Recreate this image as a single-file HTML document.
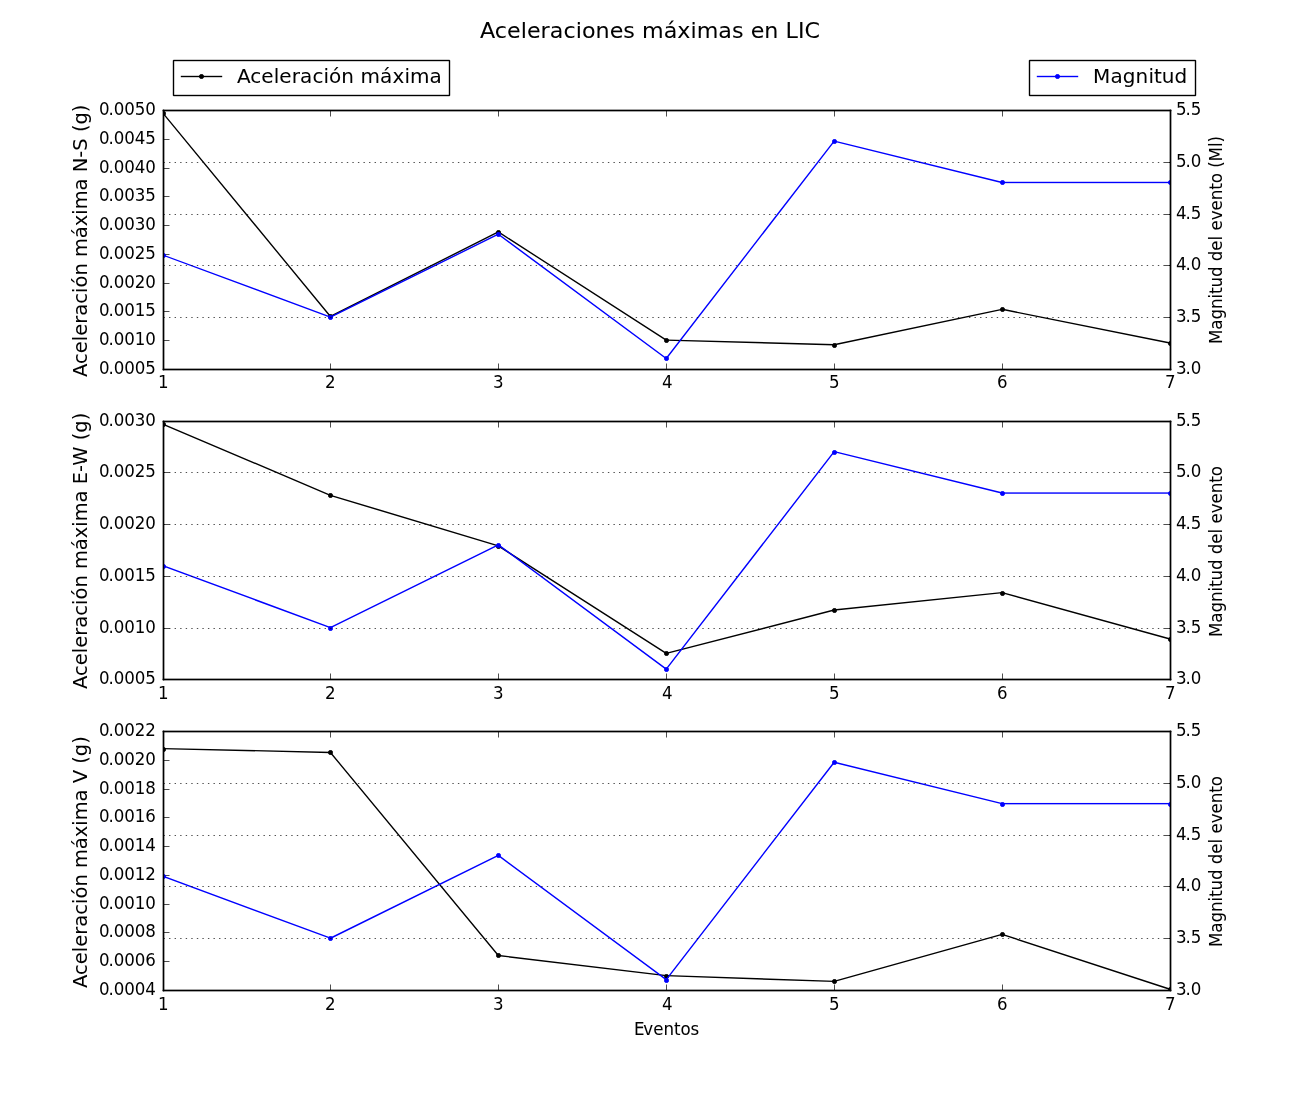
<!DOCTYPE html>
<html lang="es">
<head>
<meta charset="utf-8">
<title>Aceleraciones máximas en LIC</title>
<style>
html,body{margin:0;padding:0;background:#fff;}
body{width:1300px;height:1100px;overflow:hidden;}
svg{display:block;}
svg svg{overflow:hidden;}
text{font-family:"DejaVu Sans","Liberation Sans",sans-serif;fill:#000;}
</style>
</head>
<body>
<svg width="1300" height="1100" viewBox="0 0 1300 1100">
<rect width="1300" height="1100" fill="#fff"/>
<!-- axes 1 -->
<svg x="163" y="110" width="1008" height="260" viewBox="163 110 1008 260"><g stroke="#000" stroke-linecap="round"><line x1="162.5" y1="112.588" x2="330.417" y2="316.484" stroke-width="1.38"/><line x1="330.417" y1="316.484" x2="498.333" y2="231.935" stroke-width="1.38"/><line x1="498.333" y1="231.935" x2="666.25" y2="340.065" stroke-width="1.36"/><line x1="666.25" y1="340.065" x2="834.167" y2="344.782" stroke-width="1.38"/><line x1="834.167" y1="344.782" x2="1002.083" y2="309.294" stroke-width="1.36"/><line x1="1002.083" y1="309.294" x2="1170" y2="343.056" stroke-width="1.4"/></g><g transform="translate(163 113)"><rect x="-1" y="-1" width="3" height="3"/><rect x="-1" y="-2" width="3" height="1" fill-opacity=".769"/><rect x="-1" y="2" width="3" height="1" fill-opacity=".769"/><rect x="-2" y="-1" width="1" height="3" fill-opacity=".769"/><rect x="2" y="-1" width="1" height="3" fill-opacity=".769"/><rect x="0" y="-2" width="1" height="1" fill-opacity=".424"/><rect x="0" y="2" width="1" height="1" fill-opacity=".424"/><rect x="-2" y="0" width="1" height="1" fill-opacity=".424"/><rect x="2" y="0" width="1" height="1" fill-opacity=".424"/><rect x="-2" y="-2" width="1" height="1" fill-opacity=".086"/><rect x="2" y="-2" width="1" height="1" fill-opacity=".086"/><rect x="-2" y="2" width="1" height="1" fill-opacity=".086"/><rect x="2" y="2" width="1" height="1" fill-opacity=".086"/></g><g transform="translate(330 316)"><rect x="-1" y="-1" width="3" height="3"/><rect x="-1" y="-2" width="3" height="1" fill-opacity=".769"/><rect x="-1" y="2" width="3" height="1" fill-opacity=".769"/><rect x="-2" y="-1" width="1" height="3" fill-opacity=".769"/><rect x="2" y="-1" width="1" height="3" fill-opacity=".769"/><rect x="0" y="-2" width="1" height="1" fill-opacity=".424"/><rect x="0" y="2" width="1" height="1" fill-opacity=".424"/><rect x="-2" y="0" width="1" height="1" fill-opacity=".424"/><rect x="2" y="0" width="1" height="1" fill-opacity=".424"/><rect x="-2" y="-2" width="1" height="1" fill-opacity=".086"/><rect x="2" y="-2" width="1" height="1" fill-opacity=".086"/><rect x="-2" y="2" width="1" height="1" fill-opacity=".086"/><rect x="2" y="2" width="1" height="1" fill-opacity=".086"/></g><g transform="translate(498 232)"><rect x="-1" y="-1" width="3" height="3"/><rect x="-1" y="-2" width="3" height="1" fill-opacity=".769"/><rect x="-1" y="2" width="3" height="1" fill-opacity=".769"/><rect x="-2" y="-1" width="1" height="3" fill-opacity=".769"/><rect x="2" y="-1" width="1" height="3" fill-opacity=".769"/><rect x="0" y="-2" width="1" height="1" fill-opacity=".424"/><rect x="0" y="2" width="1" height="1" fill-opacity=".424"/><rect x="-2" y="0" width="1" height="1" fill-opacity=".424"/><rect x="2" y="0" width="1" height="1" fill-opacity=".424"/><rect x="-2" y="-2" width="1" height="1" fill-opacity=".086"/><rect x="2" y="-2" width="1" height="1" fill-opacity=".086"/><rect x="-2" y="2" width="1" height="1" fill-opacity=".086"/><rect x="2" y="2" width="1" height="1" fill-opacity=".086"/></g><g transform="translate(666 340)"><rect x="-1" y="-1" width="3" height="3"/><rect x="-1" y="-2" width="3" height="1" fill-opacity=".769"/><rect x="-1" y="2" width="3" height="1" fill-opacity=".769"/><rect x="-2" y="-1" width="1" height="3" fill-opacity=".769"/><rect x="2" y="-1" width="1" height="3" fill-opacity=".769"/><rect x="0" y="-2" width="1" height="1" fill-opacity=".424"/><rect x="0" y="2" width="1" height="1" fill-opacity=".424"/><rect x="-2" y="0" width="1" height="1" fill-opacity=".424"/><rect x="2" y="0" width="1" height="1" fill-opacity=".424"/><rect x="-2" y="-2" width="1" height="1" fill-opacity=".086"/><rect x="2" y="-2" width="1" height="1" fill-opacity=".086"/><rect x="-2" y="2" width="1" height="1" fill-opacity=".086"/><rect x="2" y="2" width="1" height="1" fill-opacity=".086"/></g><g transform="translate(834 345)"><rect x="-1" y="-1" width="3" height="3"/><rect x="-1" y="-2" width="3" height="1" fill-opacity=".769"/><rect x="-1" y="2" width="3" height="1" fill-opacity=".769"/><rect x="-2" y="-1" width="1" height="3" fill-opacity=".769"/><rect x="2" y="-1" width="1" height="3" fill-opacity=".769"/><rect x="0" y="-2" width="1" height="1" fill-opacity=".424"/><rect x="0" y="2" width="1" height="1" fill-opacity=".424"/><rect x="-2" y="0" width="1" height="1" fill-opacity=".424"/><rect x="2" y="0" width="1" height="1" fill-opacity=".424"/><rect x="-2" y="-2" width="1" height="1" fill-opacity=".086"/><rect x="2" y="-2" width="1" height="1" fill-opacity=".086"/><rect x="-2" y="2" width="1" height="1" fill-opacity=".086"/><rect x="2" y="2" width="1" height="1" fill-opacity=".086"/></g><g transform="translate(1002 309)"><rect x="-1" y="-1" width="3" height="3"/><rect x="-1" y="-2" width="3" height="1" fill-opacity=".769"/><rect x="-1" y="2" width="3" height="1" fill-opacity=".769"/><rect x="-2" y="-1" width="1" height="3" fill-opacity=".769"/><rect x="2" y="-1" width="1" height="3" fill-opacity=".769"/><rect x="0" y="-2" width="1" height="1" fill-opacity=".424"/><rect x="0" y="2" width="1" height="1" fill-opacity=".424"/><rect x="-2" y="0" width="1" height="1" fill-opacity=".424"/><rect x="2" y="0" width="1" height="1" fill-opacity=".424"/><rect x="-2" y="-2" width="1" height="1" fill-opacity=".086"/><rect x="2" y="-2" width="1" height="1" fill-opacity=".086"/><rect x="-2" y="2" width="1" height="1" fill-opacity=".086"/><rect x="2" y="2" width="1" height="1" fill-opacity=".086"/></g><g transform="translate(1170 343)"><rect x="-1" y="-1" width="3" height="3"/><rect x="-1" y="-2" width="3" height="1" fill-opacity=".769"/><rect x="-1" y="2" width="3" height="1" fill-opacity=".769"/><rect x="-2" y="-1" width="1" height="3" fill-opacity=".769"/><rect x="2" y="-1" width="1" height="3" fill-opacity=".769"/><rect x="0" y="-2" width="1" height="1" fill-opacity=".424"/><rect x="0" y="2" width="1" height="1" fill-opacity=".424"/><rect x="-2" y="0" width="1" height="1" fill-opacity=".424"/><rect x="2" y="0" width="1" height="1" fill-opacity=".424"/><rect x="-2" y="-2" width="1" height="1" fill-opacity=".086"/><rect x="2" y="-2" width="1" height="1" fill-opacity=".086"/><rect x="-2" y="2" width="1" height="1" fill-opacity=".086"/><rect x="2" y="2" width="1" height="1" fill-opacity=".086"/></g></svg>
<g><rect x="163.153" y="363.5" width=".694" height="6"/><rect x="163.153" y="110.5" width=".694" height="6"/><rect x="330.153" y="363.5" width=".694" height="6"/><rect x="330.153" y="110.5" width=".694" height="6"/><rect x="498.153" y="363.5" width=".694" height="6"/><rect x="498.153" y="110.5" width=".694" height="6"/><rect x="666.153" y="363.5" width=".694" height="6"/><rect x="666.153" y="110.5" width=".694" height="6"/><rect x="834.153" y="363.5" width=".694" height="6"/><rect x="834.153" y="110.5" width=".694" height="6"/><rect x="1002.153" y="363.5" width=".694" height="6"/><rect x="1002.153" y="110.5" width=".694" height="6"/><rect x="1170.153" y="363.5" width=".694" height="6"/><rect x="1170.153" y="110.5" width=".694" height="6"/><rect x="163.5" y="369.153" width="6" height=".694"/><rect x="163.5" y="340.153" width="6" height=".694"/><rect x="163.5" y="311.153" width="6" height=".694"/><rect x="163.5" y="283.153" width="6" height=".694"/><rect x="163.5" y="254.153" width="6" height=".694"/><rect x="163.5" y="225.153" width="6" height=".694"/><rect x="163.5" y="196.153" width="6" height=".694"/><rect x="163.5" y="168.153" width="6" height=".694"/><rect x="163.5" y="139.153" width="6" height=".694"/><rect x="163.5" y="110.153" width="6" height=".694"/></g>
<g><rect x="162.806" y="109.806" width="1.389" height="260.389"/><rect x="1169.806" y="109.806" width="1.389" height="260.389"/><rect x="162.806" y="368.806" width="1008.389" height="1.389"/><rect x="162.806" y="109.806" width="1008.389" height="1.389"/></g>
<g><text transform="translate(158 388) scale(1 1.05)" x="0" font-size="16.6667">1</text><text transform="translate(325 388) scale(1 1.05)" x="0" font-size="16.6667">2</text><text transform="translate(493 388) scale(1 1.05)" x="0" font-size="16.6667">3</text><text transform="translate(662 388) scale(1 1.05)" x="0" font-size="16.6667">4</text><text transform="translate(829 388) scale(1 1.05)" x="0" font-size="16.6667">5</text><text transform="translate(997 388) scale(1 1.05)" x="0" font-size="16.6667">6</text><text transform="translate(1165 388) scale(1 1.05)" x="0" font-size="16.6667">7</text><text transform="translate(99 374) scale(1 1.05)" x="0 9.5 14.75 25.25 35.75 46.25" font-size="16.6667">0.0005</text><text transform="translate(99 345) scale(1 1.05)" x="0 9.5 14.75 25.25 35.75 46.375" font-size="16.6667">0.0010</text><text transform="translate(99 316) scale(1 1.05)" x="0 9.5 14.75 25.25 35.75 46.375" font-size="16.6667">0.0015</text><text transform="translate(99 288) scale(1 1.05)" x="0 9.5 14.75 25.25 35.75 46.375" font-size="16.6667">0.0020</text><text transform="translate(99 259) scale(1 1.05)" x="0 9.5 14.75 25.25 35.75 46.375" font-size="16.6667">0.0025</text><text transform="translate(99 230) scale(1 1.05)" x="0 9.5 14.75 25.25 35.75 46.375" font-size="16.6667">0.0030</text><text transform="translate(99 201) scale(1 1.05)" x="0 9.5 14.75 25.25 35.75 46.375" font-size="16.6667">0.0035</text><text transform="translate(99 173) scale(1 1.05)" x="0 9.5 14.75 25.25 35.75 46.25" font-size="16.6667">0.0040</text><text transform="translate(99 144) scale(1 1.05)" x="0 9.5 14.75 25.25 35.75 46.25" font-size="16.6667">0.0045</text><text transform="translate(99 115) scale(1 1.05)" x="0 9.5 14.75 25.25 35.75 46.25" font-size="16.6667">0.0050</text></g>
<text transform="translate(87 377) rotate(-90) scale(1 1.02)" x="0 13 23.75 35.75 41.25 53.25 61.375 73.25 84 89.5 101.5 113.75 120 138.875 150.75 162.25 167.75 186.625 198.5 204.75 219.25 226.375 238.75 245 252.5 264.875" font-size="19.4444" stroke="#000" stroke-width=".02">Aceleración máxima N-S (g)</text>
<svg x="163" y="110" width="1008" height="260" viewBox="163 110 1008 260"><g stroke="#00f" stroke-linecap="round"><line x1="162.5" y1="254.941" x2="330.417" y2="317.059" stroke-width="1.38"/><line x1="330.417" y1="317.059" x2="498.333" y2="234.235" stroke-width="1.38"/><line x1="498.333" y1="234.235" x2="666.25" y2="358.471" stroke-width="1.46"/><line x1="666.25" y1="358.471" x2="834.167" y2="141.059" stroke-width="1.38"/><line x1="834.167" y1="141.059" x2="1002.083" y2="182.471" stroke-width="1.36"/><rect stroke="none" x="1001.389" y="181.776" width="169.306" height="1.389" fill="#00f"/></g><g transform="translate(163 255)" fill="#00f"><rect x="-1" y="-1" width="3" height="3"/><rect x="-1" y="-2" width="3" height="1" fill-opacity=".769"/><rect x="-1" y="2" width="3" height="1" fill-opacity=".769"/><rect x="-2" y="-1" width="1" height="3" fill-opacity=".769"/><rect x="2" y="-1" width="1" height="3" fill-opacity=".769"/><rect x="0" y="-2" width="1" height="1" fill-opacity=".424"/><rect x="0" y="2" width="1" height="1" fill-opacity=".424"/><rect x="-2" y="0" width="1" height="1" fill-opacity=".424"/><rect x="2" y="0" width="1" height="1" fill-opacity=".424"/><rect x="-2" y="-2" width="1" height="1" fill-opacity=".086"/><rect x="2" y="-2" width="1" height="1" fill-opacity=".086"/><rect x="-2" y="2" width="1" height="1" fill-opacity=".086"/><rect x="2" y="2" width="1" height="1" fill-opacity=".086"/></g><g transform="translate(330 317)" fill="#00f"><rect x="-1" y="-1" width="3" height="3"/><rect x="-1" y="-2" width="3" height="1" fill-opacity=".769"/><rect x="-1" y="2" width="3" height="1" fill-opacity=".769"/><rect x="-2" y="-1" width="1" height="3" fill-opacity=".769"/><rect x="2" y="-1" width="1" height="3" fill-opacity=".769"/><rect x="0" y="-2" width="1" height="1" fill-opacity=".424"/><rect x="0" y="2" width="1" height="1" fill-opacity=".424"/><rect x="-2" y="0" width="1" height="1" fill-opacity=".424"/><rect x="2" y="0" width="1" height="1" fill-opacity=".424"/><rect x="-2" y="-2" width="1" height="1" fill-opacity=".086"/><rect x="2" y="-2" width="1" height="1" fill-opacity=".086"/><rect x="-2" y="2" width="1" height="1" fill-opacity=".086"/><rect x="2" y="2" width="1" height="1" fill-opacity=".086"/></g><g transform="translate(498 234)" fill="#00f"><rect x="-1" y="-1" width="3" height="3"/><rect x="-1" y="-2" width="3" height="1" fill-opacity=".769"/><rect x="-1" y="2" width="3" height="1" fill-opacity=".769"/><rect x="-2" y="-1" width="1" height="3" fill-opacity=".769"/><rect x="2" y="-1" width="1" height="3" fill-opacity=".769"/><rect x="0" y="-2" width="1" height="1" fill-opacity=".424"/><rect x="0" y="2" width="1" height="1" fill-opacity=".424"/><rect x="-2" y="0" width="1" height="1" fill-opacity=".424"/><rect x="2" y="0" width="1" height="1" fill-opacity=".424"/><rect x="-2" y="-2" width="1" height="1" fill-opacity=".086"/><rect x="2" y="-2" width="1" height="1" fill-opacity=".086"/><rect x="-2" y="2" width="1" height="1" fill-opacity=".086"/><rect x="2" y="2" width="1" height="1" fill-opacity=".086"/></g><g transform="translate(666 358)" fill="#00f"><rect x="-1" y="-1" width="3" height="3"/><rect x="-1" y="-2" width="3" height="1" fill-opacity=".769"/><rect x="-1" y="2" width="3" height="1" fill-opacity=".769"/><rect x="-2" y="-1" width="1" height="3" fill-opacity=".769"/><rect x="2" y="-1" width="1" height="3" fill-opacity=".769"/><rect x="0" y="-2" width="1" height="1" fill-opacity=".424"/><rect x="0" y="2" width="1" height="1" fill-opacity=".424"/><rect x="-2" y="0" width="1" height="1" fill-opacity=".424"/><rect x="2" y="0" width="1" height="1" fill-opacity=".424"/><rect x="-2" y="-2" width="1" height="1" fill-opacity=".086"/><rect x="2" y="-2" width="1" height="1" fill-opacity=".086"/><rect x="-2" y="2" width="1" height="1" fill-opacity=".086"/><rect x="2" y="2" width="1" height="1" fill-opacity=".086"/></g><g transform="translate(834 141)" fill="#00f"><rect x="-1" y="-1" width="3" height="3"/><rect x="-1" y="-2" width="3" height="1" fill-opacity=".769"/><rect x="-1" y="2" width="3" height="1" fill-opacity=".769"/><rect x="-2" y="-1" width="1" height="3" fill-opacity=".769"/><rect x="2" y="-1" width="1" height="3" fill-opacity=".769"/><rect x="0" y="-2" width="1" height="1" fill-opacity=".424"/><rect x="0" y="2" width="1" height="1" fill-opacity=".424"/><rect x="-2" y="0" width="1" height="1" fill-opacity=".424"/><rect x="2" y="0" width="1" height="1" fill-opacity=".424"/><rect x="-2" y="-2" width="1" height="1" fill-opacity=".086"/><rect x="2" y="-2" width="1" height="1" fill-opacity=".086"/><rect x="-2" y="2" width="1" height="1" fill-opacity=".086"/><rect x="2" y="2" width="1" height="1" fill-opacity=".086"/></g><g transform="translate(1002 182)" fill="#00f"><rect x="-1" y="-1" width="3" height="3"/><rect x="-1" y="-2" width="3" height="1" fill-opacity=".769"/><rect x="-1" y="2" width="3" height="1" fill-opacity=".769"/><rect x="-2" y="-1" width="1" height="3" fill-opacity=".769"/><rect x="2" y="-1" width="1" height="3" fill-opacity=".769"/><rect x="0" y="-2" width="1" height="1" fill-opacity=".424"/><rect x="0" y="2" width="1" height="1" fill-opacity=".424"/><rect x="-2" y="0" width="1" height="1" fill-opacity=".424"/><rect x="2" y="0" width="1" height="1" fill-opacity=".424"/><rect x="-2" y="-2" width="1" height="1" fill-opacity=".086"/><rect x="2" y="-2" width="1" height="1" fill-opacity=".086"/><rect x="-2" y="2" width="1" height="1" fill-opacity=".086"/><rect x="2" y="2" width="1" height="1" fill-opacity=".086"/></g><g transform="translate(1170 182)" fill="#00f"><rect x="-1" y="-1" width="3" height="3"/><rect x="-1" y="-2" width="3" height="1" fill-opacity=".769"/><rect x="-1" y="2" width="3" height="1" fill-opacity=".769"/><rect x="-2" y="-1" width="1" height="3" fill-opacity=".769"/><rect x="2" y="-1" width="1" height="3" fill-opacity=".769"/><rect x="0" y="-2" width="1" height="1" fill-opacity=".424"/><rect x="0" y="2" width="1" height="1" fill-opacity=".424"/><rect x="-2" y="0" width="1" height="1" fill-opacity=".424"/><rect x="2" y="0" width="1" height="1" fill-opacity=".424"/><rect x="-2" y="-2" width="1" height="1" fill-opacity=".086"/><rect x="2" y="-2" width="1" height="1" fill-opacity=".086"/><rect x="-2" y="2" width="1" height="1" fill-opacity=".086"/><rect x="2" y="2" width="1" height="1" fill-opacity=".086"/></g></svg>
<path d="M163.5 369.5H1170.5M163.5 317.5H1170.5M163.5 265.5H1170.5M163.5 214.5H1170.5M163.5 162.5H1170.5M163.5 110.5H1170.5" fill="none" stroke="#000" stroke-width=".694" stroke-dasharray="1.389 4.166"/>
<g><rect x="1164.5" y="369.153" width="6" height=".694"/><rect x="1164.5" y="317.153" width="6" height=".694"/><rect x="1164.5" y="265.153" width="6" height=".694"/><rect x="1164.5" y="214.153" width="6" height=".694"/><rect x="1164.5" y="162.153" width="6" height=".694"/><rect x="1164.5" y="110.153" width="6" height=".694"/></g>
<g><rect x="162.806" y="109.806" width="1.389" height="260.389"/><rect x="1169.806" y="109.806" width="1.389" height="260.389"/><rect x="162.806" y="368.806" width="1008.389" height="1.389"/><rect x="162.806" y="109.806" width="1008.389" height="1.389"/></g>
<g><text transform="translate(1176 374) scale(1 1.05)" x="0 9.625 14.875" font-size="16.6667">3.0</text><text transform="translate(1176 322) scale(1 1.05)" x="0 9.625 14.875" font-size="16.6667">3.5</text><text transform="translate(1176 270) scale(1 1.05)" x="0 9.5 14.75" font-size="16.6667">4.0</text><text transform="translate(1176 219) scale(1 1.05)" x="0 9.5 14.75" font-size="16.6667">4.5</text><text transform="translate(1176 167) scale(1 1.05)" x="0 9.5 14.75" font-size="16.6667">5.0</text><text transform="translate(1176 115) scale(1 1.05)" x="0 9.5 14.75" font-size="16.6667">5.5</text></g>
<text transform="translate(1222 344) rotate(-90) scale(1 1.04)" x="0 14.375 24.5 35 45.5 50.125 56.625 67.125 77.625 82.875 93.375 103.625 108.25 113.5 123.75 133.625 143.875 154.375 160.875 171 176.25 182.625 197 201.625" font-size="16.6667" stroke="#000" stroke-width=".04">Magnitud del evento (Ml)</text>
<!-- axes 2 -->
<svg x="163" y="421" width="1008" height="259" viewBox="163 421 1008 259"><g stroke="#000" stroke-linecap="round"><line x1="162.5" y1="424.005" x2="330.417" y2="495.336" stroke-width="1.38"/><line x1="330.417" y1="495.336" x2="498.333" y2="545.859" stroke-width="1.44"/><line x1="498.333" y1="545.859" x2="666.25" y2="653.426" stroke-width="1.42"/><line x1="666.25" y1="653.426" x2="834.167" y2="610.047" stroke-width="1.4"/><line x1="834.167" y1="610.047" x2="1002.083" y2="592.654" stroke-width="1.44"/><line x1="1002.083" y1="592.654" x2="1170" y2="639.035" stroke-width="1.4"/></g><g transform="translate(163 424)"><rect x="-1" y="-1" width="3" height="3"/><rect x="-1" y="-2" width="3" height="1" fill-opacity=".769"/><rect x="-1" y="2" width="3" height="1" fill-opacity=".769"/><rect x="-2" y="-1" width="1" height="3" fill-opacity=".769"/><rect x="2" y="-1" width="1" height="3" fill-opacity=".769"/><rect x="0" y="-2" width="1" height="1" fill-opacity=".424"/><rect x="0" y="2" width="1" height="1" fill-opacity=".424"/><rect x="-2" y="0" width="1" height="1" fill-opacity=".424"/><rect x="2" y="0" width="1" height="1" fill-opacity=".424"/><rect x="-2" y="-2" width="1" height="1" fill-opacity=".086"/><rect x="2" y="-2" width="1" height="1" fill-opacity=".086"/><rect x="-2" y="2" width="1" height="1" fill-opacity=".086"/><rect x="2" y="2" width="1" height="1" fill-opacity=".086"/></g><g transform="translate(330 495)"><rect x="-1" y="-1" width="3" height="3"/><rect x="-1" y="-2" width="3" height="1" fill-opacity=".769"/><rect x="-1" y="2" width="3" height="1" fill-opacity=".769"/><rect x="-2" y="-1" width="1" height="3" fill-opacity=".769"/><rect x="2" y="-1" width="1" height="3" fill-opacity=".769"/><rect x="0" y="-2" width="1" height="1" fill-opacity=".424"/><rect x="0" y="2" width="1" height="1" fill-opacity=".424"/><rect x="-2" y="0" width="1" height="1" fill-opacity=".424"/><rect x="2" y="0" width="1" height="1" fill-opacity=".424"/><rect x="-2" y="-2" width="1" height="1" fill-opacity=".086"/><rect x="2" y="-2" width="1" height="1" fill-opacity=".086"/><rect x="-2" y="2" width="1" height="1" fill-opacity=".086"/><rect x="2" y="2" width="1" height="1" fill-opacity=".086"/></g><g transform="translate(498 546)"><rect x="-1" y="-1" width="3" height="3"/><rect x="-1" y="-2" width="3" height="1" fill-opacity=".769"/><rect x="-1" y="2" width="3" height="1" fill-opacity=".769"/><rect x="-2" y="-1" width="1" height="3" fill-opacity=".769"/><rect x="2" y="-1" width="1" height="3" fill-opacity=".769"/><rect x="0" y="-2" width="1" height="1" fill-opacity=".424"/><rect x="0" y="2" width="1" height="1" fill-opacity=".424"/><rect x="-2" y="0" width="1" height="1" fill-opacity=".424"/><rect x="2" y="0" width="1" height="1" fill-opacity=".424"/><rect x="-2" y="-2" width="1" height="1" fill-opacity=".086"/><rect x="2" y="-2" width="1" height="1" fill-opacity=".086"/><rect x="-2" y="2" width="1" height="1" fill-opacity=".086"/><rect x="2" y="2" width="1" height="1" fill-opacity=".086"/></g><g transform="translate(666 653)"><rect x="-1" y="-1" width="3" height="3"/><rect x="-1" y="-2" width="3" height="1" fill-opacity=".769"/><rect x="-1" y="2" width="3" height="1" fill-opacity=".769"/><rect x="-2" y="-1" width="1" height="3" fill-opacity=".769"/><rect x="2" y="-1" width="1" height="3" fill-opacity=".769"/><rect x="0" y="-2" width="1" height="1" fill-opacity=".424"/><rect x="0" y="2" width="1" height="1" fill-opacity=".424"/><rect x="-2" y="0" width="1" height="1" fill-opacity=".424"/><rect x="2" y="0" width="1" height="1" fill-opacity=".424"/><rect x="-2" y="-2" width="1" height="1" fill-opacity=".086"/><rect x="2" y="-2" width="1" height="1" fill-opacity=".086"/><rect x="-2" y="2" width="1" height="1" fill-opacity=".086"/><rect x="2" y="2" width="1" height="1" fill-opacity=".086"/></g><g transform="translate(834 610)"><rect x="-1" y="-1" width="3" height="3"/><rect x="-1" y="-2" width="3" height="1" fill-opacity=".769"/><rect x="-1" y="2" width="3" height="1" fill-opacity=".769"/><rect x="-2" y="-1" width="1" height="3" fill-opacity=".769"/><rect x="2" y="-1" width="1" height="3" fill-opacity=".769"/><rect x="0" y="-2" width="1" height="1" fill-opacity=".424"/><rect x="0" y="2" width="1" height="1" fill-opacity=".424"/><rect x="-2" y="0" width="1" height="1" fill-opacity=".424"/><rect x="2" y="0" width="1" height="1" fill-opacity=".424"/><rect x="-2" y="-2" width="1" height="1" fill-opacity=".086"/><rect x="2" y="-2" width="1" height="1" fill-opacity=".086"/><rect x="-2" y="2" width="1" height="1" fill-opacity=".086"/><rect x="2" y="2" width="1" height="1" fill-opacity=".086"/></g><g transform="translate(1002 593)"><rect x="-1" y="-1" width="3" height="3"/><rect x="-1" y="-2" width="3" height="1" fill-opacity=".769"/><rect x="-1" y="2" width="3" height="1" fill-opacity=".769"/><rect x="-2" y="-1" width="1" height="3" fill-opacity=".769"/><rect x="2" y="-1" width="1" height="3" fill-opacity=".769"/><rect x="0" y="-2" width="1" height="1" fill-opacity=".424"/><rect x="0" y="2" width="1" height="1" fill-opacity=".424"/><rect x="-2" y="0" width="1" height="1" fill-opacity=".424"/><rect x="2" y="0" width="1" height="1" fill-opacity=".424"/><rect x="-2" y="-2" width="1" height="1" fill-opacity=".086"/><rect x="2" y="-2" width="1" height="1" fill-opacity=".086"/><rect x="-2" y="2" width="1" height="1" fill-opacity=".086"/><rect x="2" y="2" width="1" height="1" fill-opacity=".086"/></g><g transform="translate(1170 639)"><rect x="-1" y="-1" width="3" height="3"/><rect x="-1" y="-2" width="3" height="1" fill-opacity=".769"/><rect x="-1" y="2" width="3" height="1" fill-opacity=".769"/><rect x="-2" y="-1" width="1" height="3" fill-opacity=".769"/><rect x="2" y="-1" width="1" height="3" fill-opacity=".769"/><rect x="0" y="-2" width="1" height="1" fill-opacity=".424"/><rect x="0" y="2" width="1" height="1" fill-opacity=".424"/><rect x="-2" y="0" width="1" height="1" fill-opacity=".424"/><rect x="2" y="0" width="1" height="1" fill-opacity=".424"/><rect x="-2" y="-2" width="1" height="1" fill-opacity=".086"/><rect x="2" y="-2" width="1" height="1" fill-opacity=".086"/><rect x="-2" y="2" width="1" height="1" fill-opacity=".086"/><rect x="2" y="2" width="1" height="1" fill-opacity=".086"/></g></svg>
<g><rect x="163.153" y="673.5" width=".694" height="6"/><rect x="163.153" y="421.5" width=".694" height="6"/><rect x="330.153" y="673.5" width=".694" height="6"/><rect x="330.153" y="421.5" width=".694" height="6"/><rect x="498.153" y="673.5" width=".694" height="6"/><rect x="498.153" y="421.5" width=".694" height="6"/><rect x="666.153" y="673.5" width=".694" height="6"/><rect x="666.153" y="421.5" width=".694" height="6"/><rect x="834.153" y="673.5" width=".694" height="6"/><rect x="834.153" y="421.5" width=".694" height="6"/><rect x="1002.153" y="673.5" width=".694" height="6"/><rect x="1002.153" y="421.5" width=".694" height="6"/><rect x="1170.153" y="673.5" width=".694" height="6"/><rect x="1170.153" y="421.5" width=".694" height="6"/><rect x="163.5" y="679.153" width="6" height=".694"/><rect x="163.5" y="628.153" width="6" height=".694"/><rect x="163.5" y="576.153" width="6" height=".694"/><rect x="163.5" y="524.153" width="6" height=".694"/><rect x="163.5" y="472.153" width="6" height=".694"/><rect x="163.5" y="421.153" width="6" height=".694"/></g>
<g><rect x="162.806" y="420.806" width="1.389" height="259.389"/><rect x="1169.806" y="420.806" width="1.389" height="259.389"/><rect x="162.806" y="678.806" width="1008.389" height="1.389"/><rect x="162.806" y="420.806" width="1008.389" height="1.389"/></g>
<g><text transform="translate(158 699) scale(1 1.05)" x="0" font-size="16.6667">1</text><text transform="translate(325 699) scale(1 1.05)" x="0" font-size="16.6667">2</text><text transform="translate(493 699) scale(1 1.05)" x="0" font-size="16.6667">3</text><text transform="translate(662 699) scale(1 1.05)" x="0" font-size="16.6667">4</text><text transform="translate(829 699) scale(1 1.05)" x="0" font-size="16.6667">5</text><text transform="translate(997 699) scale(1 1.05)" x="0" font-size="16.6667">6</text><text transform="translate(1165 699) scale(1 1.05)" x="0" font-size="16.6667">7</text><text transform="translate(99 684) scale(1 1.05)" x="0 9.5 14.75 25.25 35.75 46.25" font-size="16.6667">0.0005</text><text transform="translate(99 633) scale(1 1.05)" x="0 9.5 14.75 25.25 35.75 46.375" font-size="16.6667">0.0010</text><text transform="translate(99 581) scale(1 1.05)" x="0 9.5 14.75 25.25 35.75 46.375" font-size="16.6667">0.0015</text><text transform="translate(99 529) scale(1 1.05)" x="0 9.5 14.75 25.25 35.75 46.375" font-size="16.6667">0.0020</text><text transform="translate(99 477) scale(1 1.05)" x="0 9.5 14.75 25.25 35.75 46.375" font-size="16.6667">0.0025</text><text transform="translate(99 426) scale(1 1.05)" x="0 9.5 14.75 25.25 35.75 46.375" font-size="16.6667">0.0030</text></g>
<text transform="translate(87 689) rotate(-90) scale(1 1.02)" x="0 13 23.75 35.75 41.25 53.25 61.375 73.25 84 89.5 101.5 113.75 120 138.875 150.75 162.25 167.75 186.625 198.5 204.75 217 223.375 242.625 248.875 256.375 268.75" font-size="19.4444" stroke="#000" stroke-width=".02">Aceleración máxima E-W (g)</text>
<svg x="163" y="421" width="1008" height="259" viewBox="163 421 1008 259"><g stroke="#00f" stroke-linecap="round"><line x1="162.5" y1="565.529" x2="330.417" y2="627.647" stroke-width="1.42"/><line x1="330.417" y1="627.647" x2="498.333" y2="544.824" stroke-width="1.44"/><line x1="498.333" y1="544.824" x2="666.25" y2="669.059" stroke-width="1.42"/><line x1="666.25" y1="669.059" x2="834.167" y2="451.647" stroke-width="1.42"/><line x1="834.167" y1="451.647" x2="1002.083" y2="493.059" stroke-width="1.44"/><rect stroke="none" x="1001.389" y="492.364" width="169.306" height="1.389" fill="#00f"/></g><g transform="translate(163 566)" fill="#00f"><rect x="-1" y="-1" width="3" height="3"/><rect x="-1" y="-2" width="3" height="1" fill-opacity=".769"/><rect x="-1" y="2" width="3" height="1" fill-opacity=".769"/><rect x="-2" y="-1" width="1" height="3" fill-opacity=".769"/><rect x="2" y="-1" width="1" height="3" fill-opacity=".769"/><rect x="0" y="-2" width="1" height="1" fill-opacity=".424"/><rect x="0" y="2" width="1" height="1" fill-opacity=".424"/><rect x="-2" y="0" width="1" height="1" fill-opacity=".424"/><rect x="2" y="0" width="1" height="1" fill-opacity=".424"/><rect x="-2" y="-2" width="1" height="1" fill-opacity=".086"/><rect x="2" y="-2" width="1" height="1" fill-opacity=".086"/><rect x="-2" y="2" width="1" height="1" fill-opacity=".086"/><rect x="2" y="2" width="1" height="1" fill-opacity=".086"/></g><g transform="translate(330 628)" fill="#00f"><rect x="-1" y="-1" width="3" height="3"/><rect x="-1" y="-2" width="3" height="1" fill-opacity=".769"/><rect x="-1" y="2" width="3" height="1" fill-opacity=".769"/><rect x="-2" y="-1" width="1" height="3" fill-opacity=".769"/><rect x="2" y="-1" width="1" height="3" fill-opacity=".769"/><rect x="0" y="-2" width="1" height="1" fill-opacity=".424"/><rect x="0" y="2" width="1" height="1" fill-opacity=".424"/><rect x="-2" y="0" width="1" height="1" fill-opacity=".424"/><rect x="2" y="0" width="1" height="1" fill-opacity=".424"/><rect x="-2" y="-2" width="1" height="1" fill-opacity=".086"/><rect x="2" y="-2" width="1" height="1" fill-opacity=".086"/><rect x="-2" y="2" width="1" height="1" fill-opacity=".086"/><rect x="2" y="2" width="1" height="1" fill-opacity=".086"/></g><g transform="translate(498 545)" fill="#00f"><rect x="-1" y="-1" width="3" height="3"/><rect x="-1" y="-2" width="3" height="1" fill-opacity=".769"/><rect x="-1" y="2" width="3" height="1" fill-opacity=".769"/><rect x="-2" y="-1" width="1" height="3" fill-opacity=".769"/><rect x="2" y="-1" width="1" height="3" fill-opacity=".769"/><rect x="0" y="-2" width="1" height="1" fill-opacity=".424"/><rect x="0" y="2" width="1" height="1" fill-opacity=".424"/><rect x="-2" y="0" width="1" height="1" fill-opacity=".424"/><rect x="2" y="0" width="1" height="1" fill-opacity=".424"/><rect x="-2" y="-2" width="1" height="1" fill-opacity=".086"/><rect x="2" y="-2" width="1" height="1" fill-opacity=".086"/><rect x="-2" y="2" width="1" height="1" fill-opacity=".086"/><rect x="2" y="2" width="1" height="1" fill-opacity=".086"/></g><g transform="translate(666 669)" fill="#00f"><rect x="-1" y="-1" width="3" height="3"/><rect x="-1" y="-2" width="3" height="1" fill-opacity=".769"/><rect x="-1" y="2" width="3" height="1" fill-opacity=".769"/><rect x="-2" y="-1" width="1" height="3" fill-opacity=".769"/><rect x="2" y="-1" width="1" height="3" fill-opacity=".769"/><rect x="0" y="-2" width="1" height="1" fill-opacity=".424"/><rect x="0" y="2" width="1" height="1" fill-opacity=".424"/><rect x="-2" y="0" width="1" height="1" fill-opacity=".424"/><rect x="2" y="0" width="1" height="1" fill-opacity=".424"/><rect x="-2" y="-2" width="1" height="1" fill-opacity=".086"/><rect x="2" y="-2" width="1" height="1" fill-opacity=".086"/><rect x="-2" y="2" width="1" height="1" fill-opacity=".086"/><rect x="2" y="2" width="1" height="1" fill-opacity=".086"/></g><g transform="translate(834 452)" fill="#00f"><rect x="-1" y="-1" width="3" height="3"/><rect x="-1" y="-2" width="3" height="1" fill-opacity=".769"/><rect x="-1" y="2" width="3" height="1" fill-opacity=".769"/><rect x="-2" y="-1" width="1" height="3" fill-opacity=".769"/><rect x="2" y="-1" width="1" height="3" fill-opacity=".769"/><rect x="0" y="-2" width="1" height="1" fill-opacity=".424"/><rect x="0" y="2" width="1" height="1" fill-opacity=".424"/><rect x="-2" y="0" width="1" height="1" fill-opacity=".424"/><rect x="2" y="0" width="1" height="1" fill-opacity=".424"/><rect x="-2" y="-2" width="1" height="1" fill-opacity=".086"/><rect x="2" y="-2" width="1" height="1" fill-opacity=".086"/><rect x="-2" y="2" width="1" height="1" fill-opacity=".086"/><rect x="2" y="2" width="1" height="1" fill-opacity=".086"/></g><g transform="translate(1002 493)" fill="#00f"><rect x="-1" y="-1" width="3" height="3"/><rect x="-1" y="-2" width="3" height="1" fill-opacity=".769"/><rect x="-1" y="2" width="3" height="1" fill-opacity=".769"/><rect x="-2" y="-1" width="1" height="3" fill-opacity=".769"/><rect x="2" y="-1" width="1" height="3" fill-opacity=".769"/><rect x="0" y="-2" width="1" height="1" fill-opacity=".424"/><rect x="0" y="2" width="1" height="1" fill-opacity=".424"/><rect x="-2" y="0" width="1" height="1" fill-opacity=".424"/><rect x="2" y="0" width="1" height="1" fill-opacity=".424"/><rect x="-2" y="-2" width="1" height="1" fill-opacity=".086"/><rect x="2" y="-2" width="1" height="1" fill-opacity=".086"/><rect x="-2" y="2" width="1" height="1" fill-opacity=".086"/><rect x="2" y="2" width="1" height="1" fill-opacity=".086"/></g><g transform="translate(1170 493)" fill="#00f"><rect x="-1" y="-1" width="3" height="3"/><rect x="-1" y="-2" width="3" height="1" fill-opacity=".769"/><rect x="-1" y="2" width="3" height="1" fill-opacity=".769"/><rect x="-2" y="-1" width="1" height="3" fill-opacity=".769"/><rect x="2" y="-1" width="1" height="3" fill-opacity=".769"/><rect x="0" y="-2" width="1" height="1" fill-opacity=".424"/><rect x="0" y="2" width="1" height="1" fill-opacity=".424"/><rect x="-2" y="0" width="1" height="1" fill-opacity=".424"/><rect x="2" y="0" width="1" height="1" fill-opacity=".424"/><rect x="-2" y="-2" width="1" height="1" fill-opacity=".086"/><rect x="2" y="-2" width="1" height="1" fill-opacity=".086"/><rect x="-2" y="2" width="1" height="1" fill-opacity=".086"/><rect x="2" y="2" width="1" height="1" fill-opacity=".086"/></g></svg>
<path d="M163.5 679.5H1170.5M163.5 628.5H1170.5M163.5 576.5H1170.5M163.5 524.5H1170.5M163.5 472.5H1170.5M163.5 421.5H1170.5" fill="none" stroke="#000" stroke-width=".694" stroke-dasharray="1.389 4.166"/>
<g><rect x="1164.5" y="679.153" width="6" height=".694"/><rect x="1164.5" y="628.153" width="6" height=".694"/><rect x="1164.5" y="576.153" width="6" height=".694"/><rect x="1164.5" y="524.153" width="6" height=".694"/><rect x="1164.5" y="472.153" width="6" height=".694"/><rect x="1164.5" y="421.153" width="6" height=".694"/></g>
<g><rect x="162.806" y="420.806" width="1.389" height="259.389"/><rect x="1169.806" y="420.806" width="1.389" height="259.389"/><rect x="162.806" y="678.806" width="1008.389" height="1.389"/><rect x="162.806" y="420.806" width="1008.389" height="1.389"/></g>
<g><text transform="translate(1176 684) scale(1 1.05)" x="0 9.625 14.875" font-size="16.6667">3.0</text><text transform="translate(1176 633) scale(1 1.05)" x="0 9.625 14.875" font-size="16.6667">3.5</text><text transform="translate(1176 581) scale(1 1.05)" x="0 9.5 14.75" font-size="16.6667">4.0</text><text transform="translate(1176 529) scale(1 1.05)" x="0 9.5 14.75" font-size="16.6667">4.5</text><text transform="translate(1176 477) scale(1 1.05)" x="0 9.5 14.75" font-size="16.6667">5.0</text><text transform="translate(1176 426) scale(1 1.05)" x="0 9.5 14.75" font-size="16.6667">5.5</text></g>
<text transform="translate(1222 637) rotate(-90) scale(1 1.04)" x="0 14.375 24.5 35 45.5 50.125 56.625 67.125 77.625 82.875 93.375 103.625 108.25 113.5 123.75 133.625 143.875 154.375 160.875" font-size="16.6667" stroke="#000" stroke-width=".04">Magnitud del evento</text>
<!-- axes 3 -->
<svg x="163" y="731" width="1008" height="260" viewBox="163 731 1008 260"><g stroke="#000" stroke-linecap="round"><line x1="162.5" y1="748.575" x2="330.417" y2="752.458" stroke-width="1.34"/><line x1="330.417" y1="752.458" x2="498.333" y2="955.49" stroke-width="1.36"/><line x1="498.333" y1="955.49" x2="666.25" y2="975.621" stroke-width="1.46"/><line x1="666.25" y1="975.621" x2="834.167" y2="981.373" stroke-width="1.48"/><line x1="834.167" y1="981.373" x2="1002.083" y2="934.353" stroke-width="1.5"/><line x1="1002.083" y1="934.353" x2="1170" y2="989.281" stroke-width="1.4"/></g><g transform="translate(163 749)"><rect x="-1" y="-1" width="3" height="3"/><rect x="-1" y="-2" width="3" height="1" fill-opacity=".769"/><rect x="-1" y="2" width="3" height="1" fill-opacity=".769"/><rect x="-2" y="-1" width="1" height="3" fill-opacity=".769"/><rect x="2" y="-1" width="1" height="3" fill-opacity=".769"/><rect x="0" y="-2" width="1" height="1" fill-opacity=".424"/><rect x="0" y="2" width="1" height="1" fill-opacity=".424"/><rect x="-2" y="0" width="1" height="1" fill-opacity=".424"/><rect x="2" y="0" width="1" height="1" fill-opacity=".424"/><rect x="-2" y="-2" width="1" height="1" fill-opacity=".086"/><rect x="2" y="-2" width="1" height="1" fill-opacity=".086"/><rect x="-2" y="2" width="1" height="1" fill-opacity=".086"/><rect x="2" y="2" width="1" height="1" fill-opacity=".086"/></g><g transform="translate(330 752)"><rect x="-1" y="-1" width="3" height="3"/><rect x="-1" y="-2" width="3" height="1" fill-opacity=".769"/><rect x="-1" y="2" width="3" height="1" fill-opacity=".769"/><rect x="-2" y="-1" width="1" height="3" fill-opacity=".769"/><rect x="2" y="-1" width="1" height="3" fill-opacity=".769"/><rect x="0" y="-2" width="1" height="1" fill-opacity=".424"/><rect x="0" y="2" width="1" height="1" fill-opacity=".424"/><rect x="-2" y="0" width="1" height="1" fill-opacity=".424"/><rect x="2" y="0" width="1" height="1" fill-opacity=".424"/><rect x="-2" y="-2" width="1" height="1" fill-opacity=".086"/><rect x="2" y="-2" width="1" height="1" fill-opacity=".086"/><rect x="-2" y="2" width="1" height="1" fill-opacity=".086"/><rect x="2" y="2" width="1" height="1" fill-opacity=".086"/></g><g transform="translate(498 955)"><rect x="-1" y="-1" width="3" height="3"/><rect x="-1" y="-2" width="3" height="1" fill-opacity=".769"/><rect x="-1" y="2" width="3" height="1" fill-opacity=".769"/><rect x="-2" y="-1" width="1" height="3" fill-opacity=".769"/><rect x="2" y="-1" width="1" height="3" fill-opacity=".769"/><rect x="0" y="-2" width="1" height="1" fill-opacity=".424"/><rect x="0" y="2" width="1" height="1" fill-opacity=".424"/><rect x="-2" y="0" width="1" height="1" fill-opacity=".424"/><rect x="2" y="0" width="1" height="1" fill-opacity=".424"/><rect x="-2" y="-2" width="1" height="1" fill-opacity=".086"/><rect x="2" y="-2" width="1" height="1" fill-opacity=".086"/><rect x="-2" y="2" width="1" height="1" fill-opacity=".086"/><rect x="2" y="2" width="1" height="1" fill-opacity=".086"/></g><g transform="translate(666 976)"><rect x="-1" y="-1" width="3" height="3"/><rect x="-1" y="-2" width="3" height="1" fill-opacity=".769"/><rect x="-1" y="2" width="3" height="1" fill-opacity=".769"/><rect x="-2" y="-1" width="1" height="3" fill-opacity=".769"/><rect x="2" y="-1" width="1" height="3" fill-opacity=".769"/><rect x="0" y="-2" width="1" height="1" fill-opacity=".424"/><rect x="0" y="2" width="1" height="1" fill-opacity=".424"/><rect x="-2" y="0" width="1" height="1" fill-opacity=".424"/><rect x="2" y="0" width="1" height="1" fill-opacity=".424"/><rect x="-2" y="-2" width="1" height="1" fill-opacity=".086"/><rect x="2" y="-2" width="1" height="1" fill-opacity=".086"/><rect x="-2" y="2" width="1" height="1" fill-opacity=".086"/><rect x="2" y="2" width="1" height="1" fill-opacity=".086"/></g><g transform="translate(834 981)"><rect x="-1" y="-1" width="3" height="3"/><rect x="-1" y="-2" width="3" height="1" fill-opacity=".769"/><rect x="-1" y="2" width="3" height="1" fill-opacity=".769"/><rect x="-2" y="-1" width="1" height="3" fill-opacity=".769"/><rect x="2" y="-1" width="1" height="3" fill-opacity=".769"/><rect x="0" y="-2" width="1" height="1" fill-opacity=".424"/><rect x="0" y="2" width="1" height="1" fill-opacity=".424"/><rect x="-2" y="0" width="1" height="1" fill-opacity=".424"/><rect x="2" y="0" width="1" height="1" fill-opacity=".424"/><rect x="-2" y="-2" width="1" height="1" fill-opacity=".086"/><rect x="2" y="-2" width="1" height="1" fill-opacity=".086"/><rect x="-2" y="2" width="1" height="1" fill-opacity=".086"/><rect x="2" y="2" width="1" height="1" fill-opacity=".086"/></g><g transform="translate(1002 934)"><rect x="-1" y="-1" width="3" height="3"/><rect x="-1" y="-2" width="3" height="1" fill-opacity=".769"/><rect x="-1" y="2" width="3" height="1" fill-opacity=".769"/><rect x="-2" y="-1" width="1" height="3" fill-opacity=".769"/><rect x="2" y="-1" width="1" height="3" fill-opacity=".769"/><rect x="0" y="-2" width="1" height="1" fill-opacity=".424"/><rect x="0" y="2" width="1" height="1" fill-opacity=".424"/><rect x="-2" y="0" width="1" height="1" fill-opacity=".424"/><rect x="2" y="0" width="1" height="1" fill-opacity=".424"/><rect x="-2" y="-2" width="1" height="1" fill-opacity=".086"/><rect x="2" y="-2" width="1" height="1" fill-opacity=".086"/><rect x="-2" y="2" width="1" height="1" fill-opacity=".086"/><rect x="2" y="2" width="1" height="1" fill-opacity=".086"/></g><g transform="translate(1170 989)"><rect x="-1" y="-1" width="3" height="3"/><rect x="-1" y="-2" width="3" height="1" fill-opacity=".769"/><rect x="-1" y="2" width="3" height="1" fill-opacity=".769"/><rect x="-2" y="-1" width="1" height="3" fill-opacity=".769"/><rect x="2" y="-1" width="1" height="3" fill-opacity=".769"/><rect x="0" y="-2" width="1" height="1" fill-opacity=".424"/><rect x="0" y="2" width="1" height="1" fill-opacity=".424"/><rect x="-2" y="0" width="1" height="1" fill-opacity=".424"/><rect x="2" y="0" width="1" height="1" fill-opacity=".424"/><rect x="-2" y="-2" width="1" height="1" fill-opacity=".086"/><rect x="2" y="-2" width="1" height="1" fill-opacity=".086"/><rect x="-2" y="2" width="1" height="1" fill-opacity=".086"/><rect x="2" y="2" width="1" height="1" fill-opacity=".086"/></g></svg>
<g><rect x="163.153" y="984.5" width=".694" height="6"/><rect x="163.153" y="731.5" width=".694" height="6"/><rect x="330.153" y="984.5" width=".694" height="6"/><rect x="330.153" y="731.5" width=".694" height="6"/><rect x="498.153" y="984.5" width=".694" height="6"/><rect x="498.153" y="731.5" width=".694" height="6"/><rect x="666.153" y="984.5" width=".694" height="6"/><rect x="666.153" y="731.5" width=".694" height="6"/><rect x="834.153" y="984.5" width=".694" height="6"/><rect x="834.153" y="731.5" width=".694" height="6"/><rect x="1002.153" y="984.5" width=".694" height="6"/><rect x="1002.153" y="731.5" width=".694" height="6"/><rect x="1170.153" y="984.5" width=".694" height="6"/><rect x="1170.153" y="731.5" width=".694" height="6"/><rect x="163.5" y="990.153" width="6" height=".694"/><rect x="163.5" y="961.153" width="6" height=".694"/><rect x="163.5" y="932.153" width="6" height=".694"/><rect x="163.5" y="904.153" width="6" height=".694"/><rect x="163.5" y="875.153" width="6" height=".694"/><rect x="163.5" y="846.153" width="6" height=".694"/><rect x="163.5" y="817.153" width="6" height=".694"/><rect x="163.5" y="789.153" width="6" height=".694"/><rect x="163.5" y="760.153" width="6" height=".694"/><rect x="163.5" y="731.153" width="6" height=".694"/></g>
<g><rect x="162.806" y="730.806" width="1.389" height="260.389"/><rect x="1169.806" y="730.806" width="1.389" height="260.389"/><rect x="162.806" y="989.806" width="1008.389" height="1.389"/><rect x="162.806" y="730.806" width="1008.389" height="1.389"/></g>
<g><text transform="translate(158 1010) scale(1 1.05)" x="0" font-size="16.6667">1</text><text transform="translate(325 1010) scale(1 1.05)" x="0" font-size="16.6667">2</text><text transform="translate(493 1010) scale(1 1.05)" x="0" font-size="16.6667">3</text><text transform="translate(662 1010) scale(1 1.05)" x="0" font-size="16.6667">4</text><text transform="translate(829 1010) scale(1 1.05)" x="0" font-size="16.6667">5</text><text transform="translate(997 1010) scale(1 1.05)" x="0" font-size="16.6667">6</text><text transform="translate(1165 1010) scale(1 1.05)" x="0" font-size="16.6667">7</text><text transform="translate(99 995) scale(1 1.05)" x="0 9.5 14.75 25.25 35.75 46.25" font-size="16.6667">0.0004</text><text transform="translate(99 966) scale(1 1.05)" x="0 9.5 14.75 25.25 35.75 46.25" font-size="16.6667">0.0006</text><text transform="translate(99 937) scale(1 1.05)" x="0 9.5 14.75 25.25 35.75 46.25" font-size="16.6667">0.0008</text><text transform="translate(99 909) scale(1 1.05)" x="0 9.5 14.75 25.25 35.75 46.375" font-size="16.6667">0.0010</text><text transform="translate(99 880) scale(1 1.05)" x="0 9.5 14.75 25.25 35.75 46.375" font-size="16.6667">0.0012</text><text transform="translate(99 851) scale(1 1.05)" x="0 9.5 14.75 25.25 35.75 46.375" font-size="16.6667">0.0014</text><text transform="translate(99 822) scale(1 1.05)" x="0 9.5 14.75 25.25 35.75 46.375" font-size="16.6667">0.0016</text><text transform="translate(99 794) scale(1 1.05)" x="0 9.5 14.75 25.25 35.75 46.375" font-size="16.6667">0.0018</text><text transform="translate(99 765) scale(1 1.05)" x="0 9.5 14.75 25.25 35.75 46.375" font-size="16.6667">0.0020</text><text transform="translate(99 736) scale(1 1.05)" x="0 9.5 14.75 25.25 35.75 46.375" font-size="16.6667">0.0022</text></g>
<text transform="translate(87 988) rotate(-90) scale(1 1.02)" x="0 13 23.75 35.75 41.25 53.25 61.375 73.25 84 89.5 101.5 113.75 120 138.875 150.75 162.25 167.75 186.625 198.5 204.75 218.125 224.375 231.875 244.25" font-size="19.4444" stroke="#000" stroke-width=".02">Aceleración máxima V (g)</text>
<svg x="163" y="731" width="1008" height="260" viewBox="163 731 1008 260"><g stroke="#00f" stroke-linecap="round"><line x1="162.5" y1="876.118" x2="330.417" y2="938.235" stroke-width="1.34"/><line x1="330.417" y1="938.235" x2="498.333" y2="855.412" stroke-width="1.44"/><line x1="498.333" y1="855.412" x2="666.25" y2="979.647" stroke-width="1.34"/><line x1="666.25" y1="979.647" x2="834.167" y2="762.235" stroke-width="1.44"/><line x1="834.167" y1="762.235" x2="1002.083" y2="803.647" stroke-width="1.44"/><rect stroke="none" x="1001.389" y="802.953" width="169.306" height="1.389" fill="#00f"/></g><g transform="translate(163 876)" fill="#00f"><rect x="-1" y="-1" width="3" height="3"/><rect x="-1" y="-2" width="3" height="1" fill-opacity=".769"/><rect x="-1" y="2" width="3" height="1" fill-opacity=".769"/><rect x="-2" y="-1" width="1" height="3" fill-opacity=".769"/><rect x="2" y="-1" width="1" height="3" fill-opacity=".769"/><rect x="0" y="-2" width="1" height="1" fill-opacity=".424"/><rect x="0" y="2" width="1" height="1" fill-opacity=".424"/><rect x="-2" y="0" width="1" height="1" fill-opacity=".424"/><rect x="2" y="0" width="1" height="1" fill-opacity=".424"/><rect x="-2" y="-2" width="1" height="1" fill-opacity=".086"/><rect x="2" y="-2" width="1" height="1" fill-opacity=".086"/><rect x="-2" y="2" width="1" height="1" fill-opacity=".086"/><rect x="2" y="2" width="1" height="1" fill-opacity=".086"/></g><g transform="translate(330 938)" fill="#00f"><rect x="-1" y="-1" width="3" height="3"/><rect x="-1" y="-2" width="3" height="1" fill-opacity=".769"/><rect x="-1" y="2" width="3" height="1" fill-opacity=".769"/><rect x="-2" y="-1" width="1" height="3" fill-opacity=".769"/><rect x="2" y="-1" width="1" height="3" fill-opacity=".769"/><rect x="0" y="-2" width="1" height="1" fill-opacity=".424"/><rect x="0" y="2" width="1" height="1" fill-opacity=".424"/><rect x="-2" y="0" width="1" height="1" fill-opacity=".424"/><rect x="2" y="0" width="1" height="1" fill-opacity=".424"/><rect x="-2" y="-2" width="1" height="1" fill-opacity=".086"/><rect x="2" y="-2" width="1" height="1" fill-opacity=".086"/><rect x="-2" y="2" width="1" height="1" fill-opacity=".086"/><rect x="2" y="2" width="1" height="1" fill-opacity=".086"/></g><g transform="translate(498 855)" fill="#00f"><rect x="-1" y="-1" width="3" height="3"/><rect x="-1" y="-2" width="3" height="1" fill-opacity=".769"/><rect x="-1" y="2" width="3" height="1" fill-opacity=".769"/><rect x="-2" y="-1" width="1" height="3" fill-opacity=".769"/><rect x="2" y="-1" width="1" height="3" fill-opacity=".769"/><rect x="0" y="-2" width="1" height="1" fill-opacity=".424"/><rect x="0" y="2" width="1" height="1" fill-opacity=".424"/><rect x="-2" y="0" width="1" height="1" fill-opacity=".424"/><rect x="2" y="0" width="1" height="1" fill-opacity=".424"/><rect x="-2" y="-2" width="1" height="1" fill-opacity=".086"/><rect x="2" y="-2" width="1" height="1" fill-opacity=".086"/><rect x="-2" y="2" width="1" height="1" fill-opacity=".086"/><rect x="2" y="2" width="1" height="1" fill-opacity=".086"/></g><g transform="translate(666 980)" fill="#00f"><rect x="-1" y="-1" width="3" height="3"/><rect x="-1" y="-2" width="3" height="1" fill-opacity=".769"/><rect x="-1" y="2" width="3" height="1" fill-opacity=".769"/><rect x="-2" y="-1" width="1" height="3" fill-opacity=".769"/><rect x="2" y="-1" width="1" height="3" fill-opacity=".769"/><rect x="0" y="-2" width="1" height="1" fill-opacity=".424"/><rect x="0" y="2" width="1" height="1" fill-opacity=".424"/><rect x="-2" y="0" width="1" height="1" fill-opacity=".424"/><rect x="2" y="0" width="1" height="1" fill-opacity=".424"/><rect x="-2" y="-2" width="1" height="1" fill-opacity=".086"/><rect x="2" y="-2" width="1" height="1" fill-opacity=".086"/><rect x="-2" y="2" width="1" height="1" fill-opacity=".086"/><rect x="2" y="2" width="1" height="1" fill-opacity=".086"/></g><g transform="translate(834 762)" fill="#00f"><rect x="-1" y="-1" width="3" height="3"/><rect x="-1" y="-2" width="3" height="1" fill-opacity=".769"/><rect x="-1" y="2" width="3" height="1" fill-opacity=".769"/><rect x="-2" y="-1" width="1" height="3" fill-opacity=".769"/><rect x="2" y="-1" width="1" height="3" fill-opacity=".769"/><rect x="0" y="-2" width="1" height="1" fill-opacity=".424"/><rect x="0" y="2" width="1" height="1" fill-opacity=".424"/><rect x="-2" y="0" width="1" height="1" fill-opacity=".424"/><rect x="2" y="0" width="1" height="1" fill-opacity=".424"/><rect x="-2" y="-2" width="1" height="1" fill-opacity=".086"/><rect x="2" y="-2" width="1" height="1" fill-opacity=".086"/><rect x="-2" y="2" width="1" height="1" fill-opacity=".086"/><rect x="2" y="2" width="1" height="1" fill-opacity=".086"/></g><g transform="translate(1002 804)" fill="#00f"><rect x="-1" y="-1" width="3" height="3"/><rect x="-1" y="-2" width="3" height="1" fill-opacity=".769"/><rect x="-1" y="2" width="3" height="1" fill-opacity=".769"/><rect x="-2" y="-1" width="1" height="3" fill-opacity=".769"/><rect x="2" y="-1" width="1" height="3" fill-opacity=".769"/><rect x="0" y="-2" width="1" height="1" fill-opacity=".424"/><rect x="0" y="2" width="1" height="1" fill-opacity=".424"/><rect x="-2" y="0" width="1" height="1" fill-opacity=".424"/><rect x="2" y="0" width="1" height="1" fill-opacity=".424"/><rect x="-2" y="-2" width="1" height="1" fill-opacity=".086"/><rect x="2" y="-2" width="1" height="1" fill-opacity=".086"/><rect x="-2" y="2" width="1" height="1" fill-opacity=".086"/><rect x="2" y="2" width="1" height="1" fill-opacity=".086"/></g><g transform="translate(1170 804)" fill="#00f"><rect x="-1" y="-1" width="3" height="3"/><rect x="-1" y="-2" width="3" height="1" fill-opacity=".769"/><rect x="-1" y="2" width="3" height="1" fill-opacity=".769"/><rect x="-2" y="-1" width="1" height="3" fill-opacity=".769"/><rect x="2" y="-1" width="1" height="3" fill-opacity=".769"/><rect x="0" y="-2" width="1" height="1" fill-opacity=".424"/><rect x="0" y="2" width="1" height="1" fill-opacity=".424"/><rect x="-2" y="0" width="1" height="1" fill-opacity=".424"/><rect x="2" y="0" width="1" height="1" fill-opacity=".424"/><rect x="-2" y="-2" width="1" height="1" fill-opacity=".086"/><rect x="2" y="-2" width="1" height="1" fill-opacity=".086"/><rect x="-2" y="2" width="1" height="1" fill-opacity=".086"/><rect x="2" y="2" width="1" height="1" fill-opacity=".086"/></g></svg>
<path d="M163.5 990.5H1170.5M163.5 938.5H1170.5M163.5 886.5H1170.5M163.5 835.5H1170.5M163.5 783.5H1170.5M163.5 731.5H1170.5" fill="none" stroke="#000" stroke-width=".694" stroke-dasharray="1.389 4.166"/>
<g><rect x="1164.5" y="990.153" width="6" height=".694"/><rect x="1164.5" y="938.153" width="6" height=".694"/><rect x="1164.5" y="886.153" width="6" height=".694"/><rect x="1164.5" y="835.153" width="6" height=".694"/><rect x="1164.5" y="783.153" width="6" height=".694"/><rect x="1164.5" y="731.153" width="6" height=".694"/></g>
<g><rect x="162.806" y="730.806" width="1.389" height="260.389"/><rect x="1169.806" y="730.806" width="1.389" height="260.389"/><rect x="162.806" y="989.806" width="1008.389" height="1.389"/><rect x="162.806" y="730.806" width="1008.389" height="1.389"/></g>
<g><text transform="translate(1176 995) scale(1 1.05)" x="0 9.625 14.875" font-size="16.6667">3.0</text><text transform="translate(1176 943) scale(1 1.05)" x="0 9.625 14.875" font-size="16.6667">3.5</text><text transform="translate(1176 891) scale(1 1.05)" x="0 9.5 14.75" font-size="16.6667">4.0</text><text transform="translate(1176 840) scale(1 1.05)" x="0 9.5 14.75" font-size="16.6667">4.5</text><text transform="translate(1176 788) scale(1 1.05)" x="0 9.5 14.75" font-size="16.6667">5.0</text><text transform="translate(1176 736) scale(1 1.05)" x="0 9.5 14.75" font-size="16.6667">5.5</text></g>
<text transform="translate(1222 947) rotate(-90) scale(1 1.04)" x="0 14.375 24.5 35 45.5 50.125 56.625 67.125 77.625 82.875 93.375 103.625 108.25 113.5 123.75 133.625 143.875 154.375 160.875" font-size="16.6667" stroke="#000" stroke-width=".04">Magnitud del evento</text>
<!-- labels -->
<text transform="translate(634 1035) scale(1 1.05)" x="0 9.375 19.25 29.5 40 46.5 56.625" font-size="16.6667" stroke="#000" stroke-width=".04">Eventos</text>
<text transform="translate(480 38) scale(1 .975)" x="0 14.875 27.125 40.75 47 60.625 69.875 83.5 95.75 102 115.625 129.75 143.375 155 162.125 183.75 197.375 210.5 216.75 238.375 252 263.625 270.75 284.375 298.5 305.625 318 324.5" font-size="22.2222" stroke="#000" stroke-width=".04">Aceleraciones máximas en LIC</text>
<!-- legends -->
<rect x="173.5" y="60.5" width="276" height="35" fill="#fff" stroke="#000" stroke-width="1.389"/><g fill="#fff"><rect x="172" y="59" width="1" height="1"/><rect x="173" y="59" width="1" height="1" fill-opacity=".4"/><rect x="172" y="60" width="1" height="1" fill-opacity=".4"/><rect x="173" y="60" width="1" height="1" fill-opacity=".04"/><rect x="450" y="59" width="1" height="1"/><rect x="449" y="59" width="1" height="1" fill-opacity=".4"/><rect x="450" y="60" width="1" height="1" fill-opacity=".4"/><rect x="449" y="60" width="1" height="1" fill-opacity=".04"/><rect x="172" y="96" width="1" height="1"/><rect x="173" y="96" width="1" height="1" fill-opacity=".4"/><rect x="172" y="95" width="1" height="1" fill-opacity=".4"/><rect x="173" y="95" width="1" height="1" fill-opacity=".04"/><rect x="450" y="96" width="1" height="1"/><rect x="449" y="96" width="1" height="1" fill-opacity=".4"/><rect x="450" y="95" width="1" height="1" fill-opacity=".4"/><rect x="449" y="95" width="1" height="1" fill-opacity=".04"/></g><rect x="180.806" y="75.806" width="41.389" height="1.389"/><g transform="translate(201 76)"><rect x="-1" y="-1" width="3" height="3"/><rect x="-1" y="-2" width="3" height="1" fill-opacity=".769"/><rect x="-1" y="2" width="3" height="1" fill-opacity=".769"/><rect x="-2" y="-1" width="1" height="3" fill-opacity=".769"/><rect x="2" y="-1" width="1" height="3" fill-opacity=".769"/><rect x="0" y="-2" width="1" height="1" fill-opacity=".424"/><rect x="0" y="2" width="1" height="1" fill-opacity=".424"/><rect x="-2" y="0" width="1" height="1" fill-opacity=".424"/><rect x="2" y="0" width="1" height="1" fill-opacity=".424"/><rect x="-2" y="-2" width="1" height="1" fill-opacity=".086"/><rect x="2" y="-2" width="1" height="1" fill-opacity=".086"/><rect x="-2" y="2" width="1" height="1" fill-opacity=".086"/><rect x="2" y="2" width="1" height="1" fill-opacity=".086"/></g><text transform="translate(237 83) scale(1 .99)" x="0 13.283 24.311 36.717 42.23 54.636 63.032 75.438 86.466 91.979 104.26 117.042 123.433 143.107 155.513 167.417 172.931 192.605" font-size="20" stroke="#000" stroke-width=".035">Aceleración máxima</text>
<rect x="1029.5" y="60.5" width="166" height="35" fill="#fff" stroke="#000" stroke-width="1.389"/><g fill="#fff"><rect x="1028" y="59" width="1" height="1"/><rect x="1029" y="59" width="1" height="1" fill-opacity=".4"/><rect x="1028" y="60" width="1" height="1" fill-opacity=".4"/><rect x="1029" y="60" width="1" height="1" fill-opacity=".04"/><rect x="1196" y="59" width="1" height="1"/><rect x="1195" y="59" width="1" height="1" fill-opacity=".4"/><rect x="1196" y="60" width="1" height="1" fill-opacity=".4"/><rect x="1195" y="60" width="1" height="1" fill-opacity=".04"/><rect x="1028" y="96" width="1" height="1"/><rect x="1029" y="96" width="1" height="1" fill-opacity=".4"/><rect x="1028" y="95" width="1" height="1" fill-opacity=".4"/><rect x="1029" y="95" width="1" height="1" fill-opacity=".04"/><rect x="1196" y="96" width="1" height="1"/><rect x="1195" y="96" width="1" height="1" fill-opacity=".4"/><rect x="1196" y="95" width="1" height="1" fill-opacity=".4"/><rect x="1195" y="95" width="1" height="1" fill-opacity=".04"/></g><rect x="1036.806" y="75.806" width="41.389" height="1.389" fill="#00f"/><g transform="translate(1057 76)" fill="#00f"><rect x="-1" y="-1" width="3" height="3"/><rect x="-1" y="-2" width="3" height="1" fill-opacity=".769"/><rect x="-1" y="2" width="3" height="1" fill-opacity=".769"/><rect x="-2" y="-1" width="1" height="3" fill-opacity=".769"/><rect x="2" y="-1" width="1" height="3" fill-opacity=".769"/><rect x="0" y="-2" width="1" height="1" fill-opacity=".424"/><rect x="0" y="2" width="1" height="1" fill-opacity=".424"/><rect x="-2" y="0" width="1" height="1" fill-opacity=".424"/><rect x="2" y="0" width="1" height="1" fill-opacity=".424"/><rect x="-2" y="-2" width="1" height="1" fill-opacity=".086"/><rect x="2" y="-2" width="1" height="1" fill-opacity=".086"/><rect x="-2" y="2" width="1" height="1" fill-opacity=".086"/><rect x="2" y="2" width="1" height="1" fill-opacity=".086"/></g><text transform="translate(1093 83) scale(1 .99)" x="0 17.418 29.824 42.606 55.388 60.902 68.797 81.578" font-size="20" stroke="#000" stroke-width=".035">Magnitud</text>
</svg>
</body>
</html>
